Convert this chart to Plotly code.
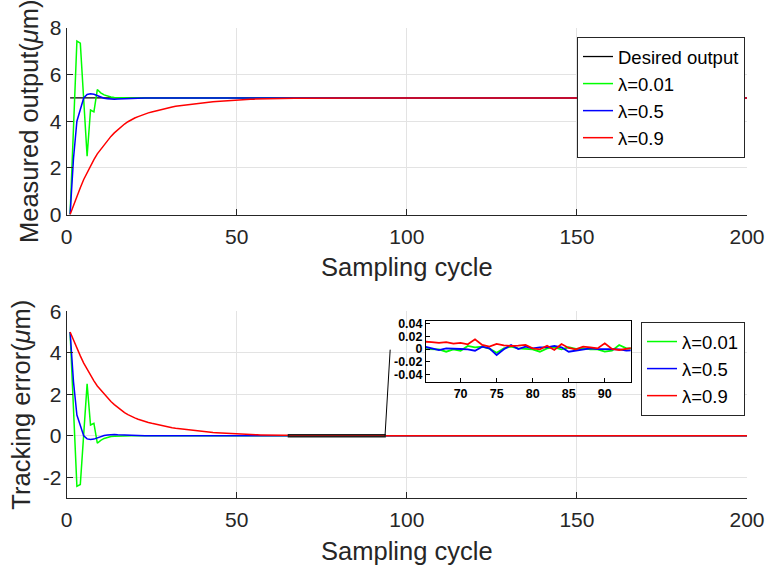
import plotly.graph_objects as go

# ---------------- data ----------------
k = list(range(1, 201))  # sampling cycles

# tracking error e(k) for the three forgetting factors
err_l001 = [
    5.0, 1.3, -2.44, -2.35, 0.09, 2.5, 0.52, 0.6, -0.36, -0.22,
    -0.13, -0.07, -0.04, -0.02, -0.01, 0, 0, 0, 0, 0,
    0, 0, 0, 0, 0, 0, 0, 0, 0, 0,
    0, 0, 0, 0, 0, 0, 0, 0, 0, 0,
    0, 0, 0, 0, 0, 0, 0, 0, 0, 0,
    0, 0, 0, 0, 0, 0, 0, 0, 0, 0,
    0, 0, 0, 0, -0.0005, -0.0005, -0.0005, -0.0043, -0.0005, -0.0027,
    0.0048, 0.0027, 0.0037, 0.0005, -0.0059, 0.001, 0.0037, 0.001, 0, -0.0005,
    -0.0043, 0.001, 0.0027, -0.0005, 0.0027, 0, 0.001, -0.0005, -0.0005, -0.0043,
    -0.0027, 0.0064, 0.001, 0, 0, 0, 0, 0, 0, 0,
    0, 0, 0, 0, 0, 0, 0, 0, 0, 0,
    0, 0, 0, 0, 0, 0, 0, 0, 0, 0,
    0, 0, 0, 0, 0, 0, 0, 0, 0, 0,
    0, 0, 0, 0, 0, 0, 0, 0, 0, 0,
    0, 0, 0, 0, 0, 0, 0, 0, 0, 0,
    0, 0, 0, 0, 0, 0, 0, 0, 0, 0,
    0, 0, 0, 0, 0, 0, 0, 0, 0, 0,
    0, 0, 0, 0, 0, 0, 0, 0, 0, 0,
    0, 0, 0, 0, 0, 0, 0, 0, 0, 0,
    0, 0, 0, 0, 0, 0, 0, 0, 0, 0,
]

err_l05 = [
    5.0, 2.6, 1.0, 0.45, 0.0, -0.15, -0.18, -0.16, -0.1, -0.04,
    0.01, 0.04, 0.06, 0.06, 0.05, 0.04, 0.03, 0.02, 0.01, 0.01,
    0, 0, 0, 0, 0, 0, 0, 0, 0, 0,
    0, 0, 0, 0, 0, 0, 0, 0, 0, 0,
    0, 0, 0, 0, 0, 0, 0, 0, 0, 0,
    0, 0, 0, 0, 0, 0, 0, 0, 0, 0,
    0, 0, 0, 0, 0.0037, 0.001, -0.0016, 0.001, 0, 0,
    -0.0005, -0.0027, 0.0037, 0.001, -0.0096, -0.0005, 0.0064, 0, 0.0037, 0.001,
    0.0027, 0.0027, 0.0048, 0.0027, -0.0043, -0.0027, 0, 0.001, 0, 0,
    -0.0005, -0.0005, -0.0027, -0.0016, 0, 0, 0, 0, 0, 0,
    0, 0, 0, 0, 0, 0, 0, 0, 0, 0,
    0, 0, 0, 0, 0, 0, 0, 0, 0, 0,
    0, 0, 0, 0, 0, 0, 0, 0, 0, 0,
    0, 0, 0, 0, 0, 0, 0, 0, 0, 0,
    0, 0, 0, 0, 0, 0, 0, 0, 0, 0,
    0, 0, 0, 0, 0, 0, 0, 0, 0, 0,
    0, 0, 0, 0, 0, 0, 0, 0, 0, 0,
    0, 0, 0, 0, 0, 0, 0, 0, 0, 0,
    0, 0, 0, 0, 0, 0, 0, 0, 0, 0,
    0, 0, 0, 0, 0, 0, 0, 0, 0, 0,
]

err_l09 = [
    5.0, 4.6, 4.2, 3.85, 3.5, 3.2, 2.9, 2.65, 2.4, 2.2,
    2.0, 1.82, 1.65, 1.5, 1.36, 1.24, 1.12, 1.02, 0.93, 0.86,
    0.8, 0.74, 0.69, 0.64, 0.6, 0.56, 0.52, 0.48, 0.45, 0.42,
    0.39, 0.36, 0.34, 0.31, 0.29, 0.27, 0.25, 0.235, 0.22, 0.2,
    0.19, 0.175, 0.16, 0.15, 0.138, 0.126, 0.115, 0.105, 0.096, 0.087,
    0.079, 0.071, 0.064, 0.057, 0.051, 0.045, 0.04, 0.035, 0.031, 0.027,
    0.023, 0.02, 0.017, 0.014, 0.0117, 0.011, 0.0096, 0.011, 0.0085, 0.0096,
    0.0075, 0.0155, 0.0064, 0.0037, 0.008, 0.0059, 0.0048, 0.0053, 0.0064, 0.001,
    -0.0005, 0.0053, -0.0016, 0.008, 0.0016, -0.0005, 0.0037, 0.0027, 0.001, 0.009,
    0.0, -0.0016, 0.0005, 0.002, 0, 0, 0, 0, 0, 0,
    0, 0, 0, 0, 0, 0, 0, 0, 0, 0,
    0, 0, 0, 0, 0, 0, 0, 0, 0, 0,
    0, 0, 0, 0, 0, 0, 0, 0, 0, 0,
    0, 0, 0, 0, 0, 0, 0, 0, 0, 0,
    0, 0, 0, 0, 0, 0, 0, 0, 0, 0,
    0, 0, 0, 0, 0, 0, 0, 0, 0, 0,
    0, 0, 0, 0, 0, 0, 0, 0, 0, 0,
    0, 0, 0, 0, 0, 0, 0, 0, 0, 0,
    0, 0, 0, 0, 0, 0, 0, 0, 0, 0,
    0, 0, 0, 0, 0, 0, 0, 0, 0, 0,
]

desired_level = 5.0
series_names = ["\u03bb=0.01", "\u03bb=0.5", "\u03bb=0.9"]
series_colors = ["#00ff00", "#0000ff", "#ff0000"]

x_tickvals = [0, 50, 100, 150, 200]
top_y_tickvals = [0, 2, 4, 6, 8]
bot_y_tickvals = [-2, 0, 2, 4, 6]
bot_y_ticktext = ["-2", "0", "2", "4", "6"]
inset_x_tickvals = [70, 75, 80, 85, 90]
inset_y_tickvals = [-0.04, -0.02, 0, 0.02, 0.04]
inset_y_ticktext = ["-0.04", "-0.02", "0", "0.02", "0.04"]
inset_k_range = [65.2, 93.6]
inset_e_range = [-0.052, 0.045]

# derived series
desired = [desired_level for _ in k]
errors = [err_l001, err_l05, err_l09]
outputs = [[desired_level - e for e in err] for err in errors]

FONT = "Liberation Sans, Arial, Helvetica, sans-serif"
AX = "#262626"
GRID = "#e3e3e3"

fig = go.Figure()

# top: measured output
fig.add_trace(go.Scatter(x=k, y=desired, mode="lines", name="Desired output",
                         line=dict(color="black", width=1.3),
                         xaxis="x", yaxis="y", legend="legend"))
for name, col, out in zip(series_names, series_colors, outputs):
    fig.add_trace(go.Scatter(x=k, y=out, mode="lines", name=name,
                             line=dict(color=col, width=1.5),
                             xaxis="x", yaxis="y", legend="legend"))

# bottom: tracking error
for name, col, err in zip(series_names, series_colors, errors):
    fig.add_trace(go.Scatter(x=k, y=err, mode="lines", name=name,
                             line=dict(color=col, width=1.5),
                             xaxis="x2", yaxis="y2", legend="legend2"))

# inset: white background panel, then the zoomed curves
fig.add_trace(go.Scatter(
    x=[inset_k_range[0], inset_k_range[1], inset_k_range[1], inset_k_range[0], inset_k_range[0]],
    y=[inset_e_range[0], inset_e_range[0], inset_e_range[1], inset_e_range[1], inset_e_range[0]],
    mode="lines", fill="toself", fillcolor="white", line=dict(width=0),
    hoverinfo="skip", showlegend=False, xaxis="x3", yaxis="y3"))
ik = [i for i, kk in enumerate(k) if 63 <= kk <= 96]
for name, col, err in zip(series_names, series_colors, errors):
    fig.add_trace(go.Scatter(x=[k[i] for i in ik], y=[err[i] for i in ik],
                             mode="lines", name=name, showlegend=False,
                             line=dict(color=col, width=1.8),
                             xaxis="x3", yaxis="y3"))

tickfont = dict(family=FONT, size=21, color=AX)
titlefont = dict(family=FONT, size=25.5, color=AX)

def main_axis(**kw):
    d = dict(showline=True, linecolor=AX, linewidth=1, mirror=False,
             ticks="inside", ticklen=6, tickcolor=AX, tickwidth=1,
             showgrid=True, gridcolor=GRID, gridwidth=1, zeroline=False,
             tickfont=tickfont, automargin=False)
    d.update(kw)
    return d

inset_font = dict(family=FONT, size=12.5, color="black", weight="bold")
legend_font = dict(family=FONT, size=18.5, color="black")
xdom = [66.7 / 768, 747 / 768]
fig.update_layout(
    width=768, height=568,
    margin=dict(l=0, r=0, t=0, b=0, autoexpand=False),
    paper_bgcolor="white", plot_bgcolor="white",
    font=dict(family=FONT, color=AX),
    xaxis=main_axis(domain=xdom, anchor="y", range=[0, 200], tickvals=x_tickvals,
                    ticklabelstandoff=3,
                    title=dict(text="Sampling cycle", font=titlefont, standoff=11)),
    yaxis=main_axis(domain=[1 - 214.5 / 568, 1 - 28 / 568], anchor="x", range=[0, 8],
                    tickvals=top_y_tickvals,
                    title=dict(text="Measured output(<i>\u03bc</i>m)", font=titlefont, standoff=3)),
    xaxis2=main_axis(domain=xdom, anchor="y2", range=[0, 200], tickvals=x_tickvals,
                     ticklabelstandoff=3,
                     title=dict(text="Sampling cycle", font=titlefont, standoff=11)),
    yaxis2=main_axis(domain=[1 - 498 / 568, 1 - 311.3 / 568], anchor="x2", range=[-3, 6],
                     tickvals=bot_y_tickvals, ticktext=bot_y_ticktext,
                     title=dict(text="Tracking error(<i>\u03bc</i>m)", font=titlefont, standoff=4)),
    xaxis3=dict(domain=[426 / 768, 630.7 / 768], anchor="y3", range=inset_k_range,
                tickvals=inset_x_tickvals, showline=True, mirror=True, linecolor="black",
                linewidth=1, ticks="inside", ticklen=4, tickcolor="black", showgrid=False,
                zeroline=False, tickfont=inset_font, automargin=False),
    yaxis3=dict(domain=[1 - 381.7 / 568, 1 - 320.7 / 568], anchor="x3", range=inset_e_range,
                tickvals=inset_y_tickvals, ticktext=inset_y_ticktext, showline=True,
                mirror=True, linecolor="black", linewidth=1, ticks="inside", ticklen=4,
                tickcolor="black", showgrid=False, zeroline=False, tickfont=inset_font,
                automargin=False),
    legend=dict(x=745 / 768, xanchor="right", y=1 - 37 / 568, yanchor="top",
                bgcolor="white", bordercolor=AX, borderwidth=1,
                font=legend_font, tracegroupgap=0),
    legend2=dict(x=745 / 768, xanchor="right", y=1 - 322 / 568, yanchor="top",
                 bgcolor="white", bordercolor=AX, borderwidth=1,
                 font=legend_font, tracegroupgap=0),
    shapes=[
        dict(type="rect", xref="x2", yref="y2", x0=inset_k_range[0], x1=inset_k_range[1],
             y0=-0.05, y1=0.05, line=dict(color="#202020", width=1.5)),
        dict(type="line", xref="x2", yref="y2", x0=inset_k_range[1], y0=0.05,
             x1=95.1, y1=4.15, line=dict(color="black", width=1)),
    ],
)

fig.write_html("out.html")
